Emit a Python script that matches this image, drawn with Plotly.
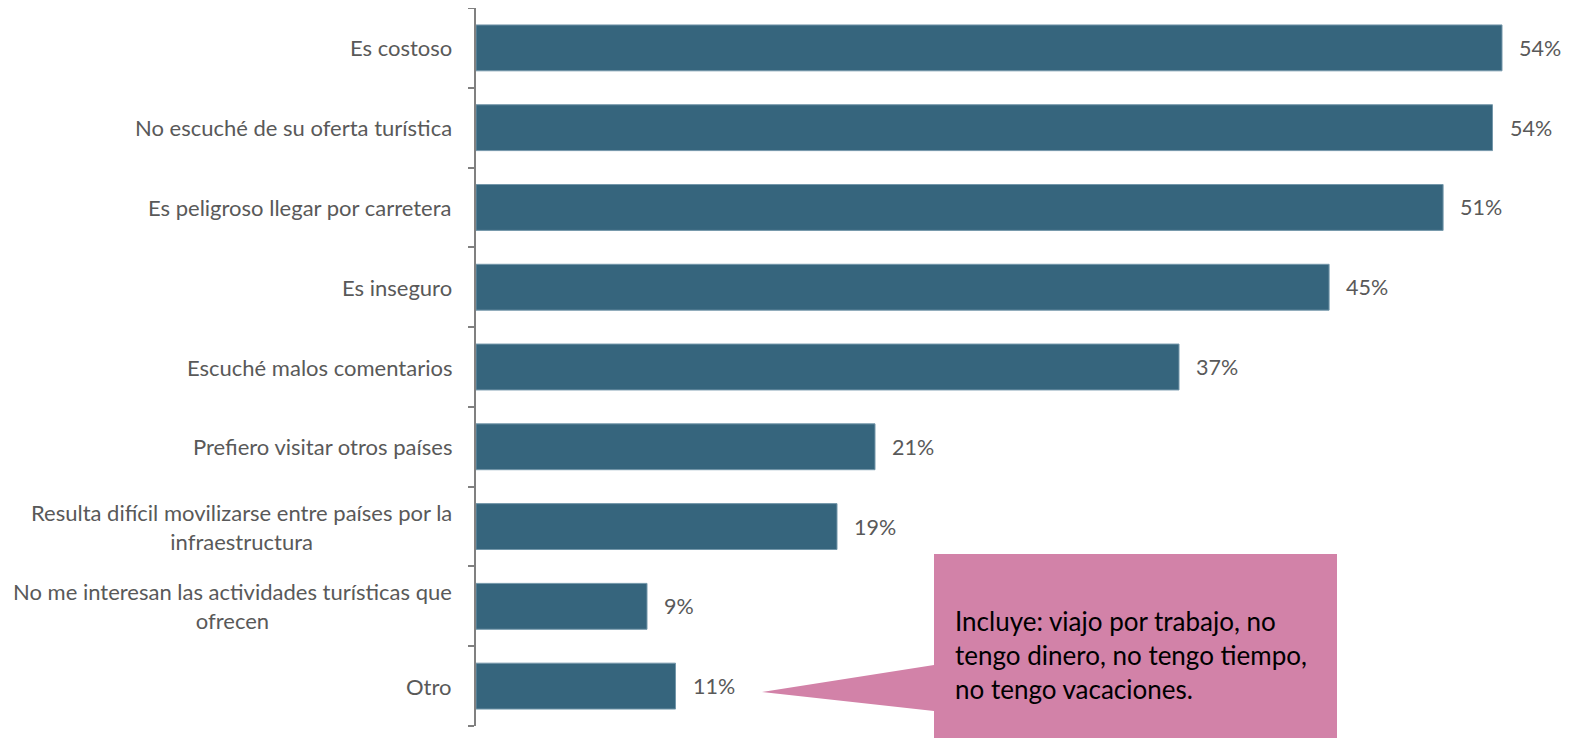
import plotly.graph_objects as go

categories = [
    "Es costoso",
    "No escuché de su oferta turística",
    "Es peligroso llegar por carretera",
    "Es inseguro",
    "Escuché malos comentarios",
    "Prefiero visitar otros países",
    "Resulta difícil movilizarse entre países por la<br>infraestructura",
    "No me interesan las actividades turísticas que<br>ofrecen",
    "Otro",
]
values = [54.0, 53.5, 50.9, 44.9, 37.0, 21.0, 19.0, 9.0, 10.5]
value_labels = ["54%", "54%", "51%", "45%", "37%", "21%", "19%", "9%", "11%"]
callout_lines = [
    "Incluye: viajo por trabajo, no",
    "tengo dinero, no tengo tiempo,",
    "no tengo vacaciones.",
]

# page has an 8px body margin, so the figure is drawn at (8, 8)
OFF = 8
W, H = 1572 - OFF, 738 - OFF
L, R, T, B = 476 - OFF, 12, 0, 12
pw, ph = W - L - R, H - T - B

def px(x):  # page pixel -> paper
    return (x - OFF - L) / pw

def py(y):
    return (H - B - (y - OFF)) / ph

FONT = "Lato"
GRAY = "#595959"
n = len(categories)

fig = go.Figure()
fig.add_trace(go.Bar(
    x=values, y=list(range(n)), orientation="h",
    marker=dict(color="#36657D", line=dict(color="#7497aa", width=1)),
    width=0.575, hoverinfo="skip",
))

annotations = []
for i, (v, lab) in enumerate(zip(values, value_labels)):
    annotations.append(dict(x=v, y=i, xref="x", yref="y", text=lab, showarrow=False,
                            xanchor="left", xshift=15,
                            font=dict(family=FONT, size=21.5, color=GRAY)))
for i, c in enumerate(categories):
    annotations.append(dict(x=0, y=i, xref="paper", yref="y", text=c, showarrow=False,
                            xanchor="right", align="center", xshift=-22,
                            font=dict(family=FONT, size=22, color=GRAY)))

shapes = [
    dict(type="path", xref="paper", yref="paper",
         path=(f"M {px(934)} {py(554)} L {px(1337)} {py(554)} L {px(1337)} {py(760)} "
               f"L {px(934)} {py(760)} L {px(934)} {py(711)} L {px(762)} {py(692)} "
               f"L {px(934)} {py(665)} Z"),
         fillcolor="#D282A8", line=dict(width=0), layer="above"),
]
for k, line in enumerate(callout_lines):
    annotations.append(dict(x=px(953), y=py(621 + 34 * k), xref="paper", yref="paper",
                            text=line, showarrow=False, xanchor="left", yanchor="middle",
                            font=dict(family=FONT, size=26, color="#000000")))

fig.update_layout(
    width=W, height=H,
    margin=dict(l=L, r=R, t=T, b=B, autoexpand=False),
    paper_bgcolor="white", plot_bgcolor="white",
    showlegend=False,
    xaxis=dict(range=[0, pw / 19.0], visible=False, fixedrange=True, automargin=False),
    yaxis=dict(range=[n - 0.5, -0.5], tickmode="array",
               tickvals=[i - 0.5 for i in range(n + 1)], ticktext=[""] * (n + 1),
               showline=True, linecolor="#808080", linewidth=1.5,
               ticks="outside", ticklen=6, tickcolor="#808080", tickwidth=1.5,
               showgrid=False, zeroline=False, fixedrange=True, automargin=False),
    annotations=annotations,
    shapes=shapes,
)
fig.write_html("out.html")
